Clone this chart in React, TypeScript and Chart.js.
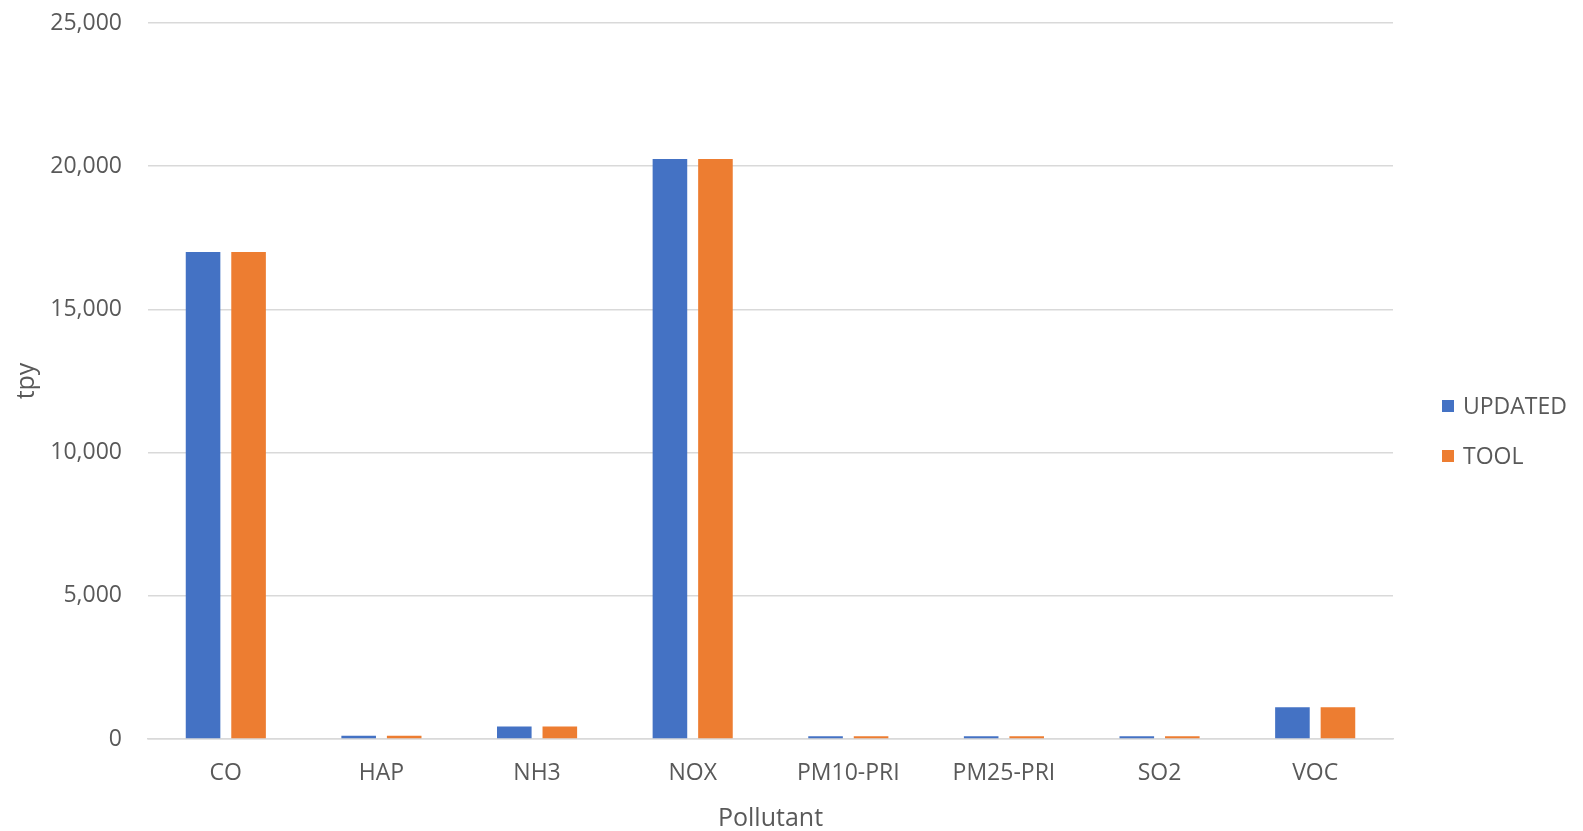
import React, { useEffect, useRef } from "react";
import { Chart, registerables } from "chart.js";

Chart.register(...registerables);

// Emissions by pollutant, tons per year
const pollutants = ["CO", "HAP", "NH3", "NOX", "PM10-PRI", "PM25-PRI", "SO2", "VOC"];
const updatedValues = [17000, 110, 440, 20250, 100, 100, 100, 1110];
const toolValues = [17000, 110, 440, 20250, 100, 100, 100, 1110];
const seriesLabels = ["UPDATED", "TOOL"];
const seriesColors = ["#4472C4", "#ED7D31"];
const yTicks = [0, 5000, 10000, 15000, 20000, 25000];

const FONT = "'Open Sans', 'Noto Sans', sans-serif";
const TEXT = "#595959";

// Legend drawn to the right of the plot, one row per dataset
const sideLegend = {
  id: "sideLegend",
  afterDraw(chart: any) {
    const ctx = chart.ctx;
    const x = chart.chartArea.right + 49;
    const firstY = 406;
    const rowGap = 50;
    ctx.save();
    ctx.font = `23px ${FONT}`;
    ctx.textBaseline = "middle";
    ctx.textAlign = "left";
    chart.data.datasets.forEach((ds: any, i: number) => {
      const y = firstY + i * rowGap;
      ctx.fillStyle = ds.backgroundColor;
      ctx.fillRect(x, y - 6, 12, 12);
      ctx.fillStyle = TEXT;
      ctx.fillText(ds.label, x + 21, y + 1);
    });
    ctx.restore();
  },
};

export default function App() {
  const canvasRef = useRef<HTMLCanvasElement | null>(null);

  useEffect(() => {
    if (!canvasRef.current) return;
    const chart = new Chart(canvasRef.current, {
      type: "bar",
      data: {
        labels: pollutants,
        datasets: [
          {
            label: seriesLabels[0],
            data: updatedValues,
            backgroundColor: seriesColors[0],
            categoryPercentage: 0.585,
            barPercentage: 0.76,
          },
          {
            label: seriesLabels[1],
            data: toolValues,
            backgroundColor: seriesColors[1],
            categoryPercentage: 0.585,
            barPercentage: 0.76,
          },
        ],
      },
      options: {
        responsive: false,
        animation: false,
        layout: { padding: { top: 23, right: 190, bottom: 0, left: 0 } },
        plugins: {
          legend: { display: false },
          tooltip: { enabled: false },
        },
        scales: {
          x: {
            grid: { display: false, drawTicks: false },
            border: { display: true, color: "#d9d9d9", width: 1.5 },
            ticks: {
              color: TEXT,
              font: { family: FONT, size: 23 },
              padding: 21,
              maxRotation: 0,
              autoSkip: false,
            },
            title: {
              display: true,
              text: "Pollutant",
              color: TEXT,
              font: { family: FONT, size: 25, lineHeight: 0.95 },
              padding: { top: 0, bottom: 0 },
            },
            afterFit(scale: any) {
              scale.height = 92;
            },
          },
          y: {
            min: 0,
            max: 25000,
            grid: {
              color: "#d9d9d9",
              lineWidth: 1.5,
              drawTicks: true,
              tickLength: 26,
              tickColor: "rgba(0,0,0,0)",
            },
            border: { display: false },
            afterBuildTicks(scale: any) {
              scale.ticks = yTicks.map((v) => ({ value: v }));
            },
            ticks: {
              color: TEXT,
              font: { family: FONT, size: 23 },
              padding: 0,
              callback: (v: any) => Number(v).toLocaleString("en-US"),
            },
            title: {
              display: true,
              text: "tpy",
              color: TEXT,
              font: { family: FONT, size: 25 },
              padding: { top: 12, bottom: 0 },
            },
            afterFit(scale: any) {
              scale.width = 148;
            },
          },
        },
      },
      plugins: [sideLegend],
    });
    return () => chart.destroy();
  }, []);

  return (
    <div style={{ position: "absolute", left: 0, top: 0, width: 1583, height: 831, background: "#fff" }}>
      <canvas ref={canvasRef} width={1583} height={831} />
    </div>
  );
}
